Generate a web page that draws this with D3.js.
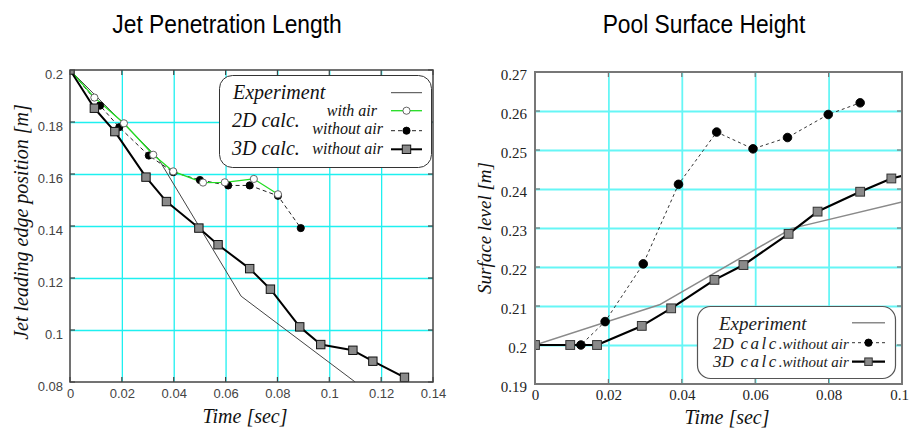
<!DOCTYPE html>
<html><head><meta charset="utf-8">
<script src="https://cdn.jsdelivr.net/npm/d3@7"></script>
<style>
html,body{margin:0;padding:0;background:#fff;}
svg{display:block;}
</style></head>
<body>
<svg id="chart" width="910" height="431"></svg>
<script>
// ---------------- DATA ----------------
// Left panel: Jet Penetration Length
const jetXTicks = [0, 0.02, 0.04, 0.06, 0.08, 0.1, 0.12, 0.14];
const jetXTickLabels = ["0", "0.02", "0.04", "0.06", "0.08", "0.1", "0.12", "0.14"];
const jetYTicks = [0.08, 0.1, 0.12, 0.14, 0.16, 0.18, 0.2];
const jetYTickLabels = ["0.08", "0.1", "0.12", "0.14", "0.16", "0.18", "0.2"];

const jetExpTime = [0, 0.034, 0.066, 0.11];
const jetExpPos  = [0.2, 0.166, 0.113, 0.08];

const jet2DAirTime = [0, 0.0094, 0.0208, 0.0321, 0.0398, 0.0513, 0.0597, 0.0709, 0.0802];
const jet2DAirPos  = [0.2, 0.1894, 0.1795, 0.1674, 0.161, 0.1567, 0.1568, 0.1581, 0.1522];

const jet2DNoAirTime = [0, 0.0116, 0.019, 0.0304, 0.0398, 0.0501, 0.061, 0.0693, 0.0802, 0.089];
const jet2DNoAirPos  = [0.2, 0.1863, 0.178, 0.1671, 0.1607, 0.1577, 0.1556, 0.1556, 0.1516, 0.1392];

const jet3DTime = [0, 0.0094, 0.0173, 0.0293, 0.0372, 0.0497, 0.0571, 0.0693, 0.0773, 0.0886, 0.0967, 0.1091, 0.1168, 0.129];
const jet3DPos  = [0.2, 0.1853, 0.1763, 0.1588, 0.1494, 0.1392, 0.1328, 0.1236, 0.1157, 0.1012, 0.0944, 0.0922, 0.088, 0.0818];

// Right panel: Pool Surface Height
const poolXTicks = [0, 0.02, 0.04, 0.06, 0.08, 0.1];
const poolXTickLabels = ["0", "0.02", "0.04", "0.06", "0.08", "0.1"];
const poolYTicks = [0.19, 0.2, 0.21, 0.22, 0.23, 0.24, 0.25, 0.26, 0.27];
const poolYTickLabels = ["0.19", "0.2", "0.21", "0.22", "0.23", "0.24", "0.25", "0.26", "0.27"];

const poolExpTime = [0, 0.0339, 0.07, 0.1];
const poolExpLevel = [0.2, 0.2103, 0.2299, 0.2367];

const pool2DTime = [0, 0.0125, 0.0191, 0.0295, 0.0391, 0.0495, 0.0594, 0.0688, 0.0799, 0.0886];
const pool2DLevel = [0.2, 0.2, 0.206, 0.2208, 0.2412, 0.2546, 0.2503, 0.2532, 0.2591, 0.2621];

const pool3DTime = [0, 0.0096, 0.0169, 0.0291, 0.0371, 0.0489, 0.0568, 0.0691, 0.077, 0.0886, 0.0971, 0.105];
const pool3DLevel = [0.2, 0.2, 0.2, 0.2049, 0.2094, 0.2167, 0.2205, 0.2285, 0.2342, 0.2393, 0.2427, 0.2445];

const titles = ["Jet Penetration Length", "Pool Surface Height"];

// ---------------- DRAW ----------------
const svg = d3.select("#chart");
const zip = (xs, ys) => xs.map((x, i) => [x, ys[i]]);
const SERIF = "'Liberation Serif','Times New Roman',serif";
const SANS = "'Liberation Sans',Arial,sans-serif";

// titles
svg.append("text").attr("transform", "translate(227,33) scale(0.95,1.05)").attr("text-anchor", "middle")
  .attr("font-family", SANS).attr("font-size", 24).attr("fill", "#000").text(titles[0]);
svg.append("text").attr("transform", "translate(704,33) scale(0.95,1.05)").attr("text-anchor", "middle")
  .attr("font-family", SANS).attr("font-size", 24).attr("fill", "#000").text(titles[1]);

function drawMarker(g, type, cx, cy, s) {
  if (type === "circle") {
    g.append("circle").attr("cx", cx).attr("cy", cy).attr("r", s.msize)
      .attr("fill", s.mfill).attr("stroke", s.mstroke).attr("stroke-width", 0.9);
  } else if (type === "square") {
    g.append("rect").attr("x", cx - s.msize).attr("y", cy - s.msize)
      .attr("width", 2 * s.msize).attr("height", 2 * s.msize)
      .attr("fill", s.mfill).attr("stroke", s.mstroke).attr("stroke-width", 1);
  }
}

function panel(o) {
  const g = svg.append("g");
  const x = d3.scaleLinear().domain(o.xDomain).range([o.left, o.right]);
  const y = d3.scaleLinear().domain(o.yDomain).range([o.bottom, o.top]);
  const W = o.right - o.left, H = o.bottom - o.top;

  // grid
  const gx = g.append("g").attr("transform", `translate(0,${o.bottom})`)
    .call(d3.axisBottom(x).tickValues(o.xTicks.slice(1, -1)).tickSize(-H).tickFormat(""));
  const gy = g.append("g").attr("transform", `translate(${o.left},0)`)
    .call(d3.axisLeft(y).tickValues(o.yTicks.slice(1, -1)).tickSize(-W).tickFormat(""));
  [gx, gy].forEach(a => {
    a.select(".domain").remove();
    a.selectAll("line").attr("stroke", o.gridColor).attr("stroke-width", o.gridWidth);
  });

  // inward ticks on all sides
  const tk = 5;
  const ticks = g.append("g").attr("stroke", o.frameColor).attr("stroke-width", 1.2);
  o.xTicks.forEach(v => {
    ticks.append("line").attr("x1", x(v)).attr("x2", x(v)).attr("y1", o.bottom).attr("y2", o.bottom - tk);
    ticks.append("line").attr("x1", x(v)).attr("x2", x(v)).attr("y1", o.top).attr("y2", o.top + tk);
  });
  o.yTicks.forEach(v => {
    ticks.append("line").attr("y1", y(v)).attr("y2", y(v)).attr("x1", o.left).attr("x2", o.left + tk);
    ticks.append("line").attr("y1", y(v)).attr("y2", y(v)).attr("x1", o.right).attr("x2", o.right - tk);
  });

  // tick labels via axes
  const ax = g.append("g").attr("transform", `translate(0,${o.bottom})`)
    .call(d3.axisBottom(x).tickValues(o.xTicks).tickSize(0).tickPadding(o.xPad)
      .tickFormat((d, i) => o.xLabels[i]));
  const ay = g.append("g").attr("transform", `translate(${o.left},0)`)
    .call(d3.axisLeft(y).tickValues(o.yTicks).tickSize(0).tickPadding(o.yPad)
      .tickFormat((d, i) => o.yLabels[i]));
  [ax, ay].forEach(a => {
    a.select(".domain").remove();
    a.selectAll("text").attr("font-family", o.tickFont).attr("font-size", o.tickSize)
      .attr("fill", o.tickColor);
  });
  ay.selectAll("text").attr("dy", o.yDy);
  ax.selectAll("text").attr("dy", o.xDy);
  if (o.lastXShift) {
    ax.selectAll("text").filter((d, i, n) => i === n.length - 1).attr("dx", o.lastXShift);
  }

  // clip
  const cid = "clip" + o.id;
  svg.append("clipPath").attr("id", cid).append("rect")
    .attr("x", o.left).attr("y", o.top).attr("width", W).attr("height", H);
  const plot = g.append("g").attr("clip-path", `url(#${cid})`);
  const line = d3.line().x(d => x(d[0])).y(d => y(d[1]));

  o.series.forEach(s => {
    plot.append("path").datum(s.data).attr("d", line).attr("fill", "none")
      .attr("stroke", s.color).attr("stroke-width", s.width)
      .attr("stroke-dasharray", s.dash || null).attr("stroke-linejoin", "round");
  });
  o.series.forEach(s => {
    if (!s.marker) return;
    const m = plot.append("g");
    s.data.forEach(d => drawMarker(m, s.marker, x(d[0]), y(d[1]), s));
  });

  // frame
  g.append("rect").attr("x", o.left).attr("y", o.top).attr("width", W).attr("height", H)
    .attr("fill", "none").attr("stroke", o.frameColor).attr("stroke-width", o.frameWidth);

  // axis titles
  g.append("text").attr("x", o.xTitlePos[0]).attr("y", o.xTitlePos[1]).attr("text-anchor", "middle")
    .attr("font-family", SERIF).attr("font-style", "italic").attr("font-size", o.xTitleSize)
    .attr("fill", "#111").text(o.xTitle);
  g.append("text").attr("transform", `translate(${o.yTitlePos[0]},${o.yTitlePos[1]}) rotate(-90)`)
    .attr("text-anchor", "middle").attr("font-family", SERIF).attr("font-style", "italic")
    .attr("font-size", o.yTitleSize).attr("fill", "#111").text(o.yTitle);

  return {g, x, y};
}

// ---- Left panel ----
const L = {
  exp:   {data: zip(jetExpTime, jetExpPos), color: "#444", width: 1},
  air:   {data: zip(jet2DAirTime, jet2DAirPos), color: "#22dd22", width: 1.3, marker: "circle", msize: 3.6, mfill: "#fff", mstroke: "#555"},
  noair: {data: zip(jet2DNoAirTime, jet2DNoAirPos), color: "#222", width: 1, dash: "4,3", marker: "circle", msize: 3.6, mfill: "#000", mstroke: "#000"},
  d3:    {data: zip(jet3DTime, jet3DPos), color: "#000", width: 2, marker: "square", msize: 4.2, mfill: "#8a8a8a", mstroke: "#111"}
};
panel({
  id: "L", left: 70, right: 433, top: 70, bottom: 382,
  xDomain: [0, 0.14], yDomain: [0.08, 0.2],
  xTicks: jetXTicks, xLabels: jetXTickLabels, yTicks: jetYTicks, yLabels: jetYTickLabels,
  gridColor: "#1ef0f0", gridWidth: 1.3, frameColor: "#444", frameWidth: 1.5,
  tickFont: SANS, tickSize: 13, tickColor: "#444", xPad: 6, yPad: 7, xDy: "0.75em", yDy: "0.65em",
  series: [L.exp, L.noair, L.air, L.d3],
  xTitle: "Time [sec]", xTitlePos: [245, 423], xTitleSize: 20,
  yTitle: "Jet leading edge position [m]", yTitlePos: [28, 222], yTitleSize: 20
});

// left legend
(function () {
  const g = svg.append("g");
  g.append("rect").attr("x", 219.5).attr("y", 75.5).attr("width", 212).attr("height", 92)
    .attr("rx", 13).attr("fill", "#fff").attr("stroke", "#333").attr("stroke-width", 1);
  const big = (t, x, y) => g.append("text").attr("x", x).attr("y", y).attr("font-family", SERIF)
    .attr("font-style", "italic").attr("font-size", 20).attr("fill", "#111").text(t);
  const small = (t, x, y) => g.append("text").attr("x", x).attr("y", y).attr("text-anchor", "end")
    .attr("font-family", SERIF).attr("font-style", "italic").attr("font-size", 16).attr("fill", "#111").text(t);
  big("Experiment", 233, 99);
  big("2D calc.", 232, 127);
  big("3D calc.", 232, 155);
  small("with air", 377, 116);
  small("without air", 383, 134);
  small("without air", 383, 154);
  const rows = [[L.exp, 92.7], [L.air, 110.7], [L.noair, 130.7], [L.d3, 149.3]];
  rows.forEach(([s, yy]) => {
    g.append("line").attr("x1", 391).attr("x2", 422).attr("y1", yy).attr("y2", yy)
      .attr("stroke", s.color).attr("stroke-width", s.width).attr("stroke-dasharray", s.dash || null);
    if (s.marker) drawMarker(g, s.marker, 406.5, yy, s);
  });
})();

// ---- Right panel ----
const R = {
  exp: {data: zip(poolExpTime, poolExpLevel), color: "#8a8a8a", width: 1.5},
  d2:  {data: zip(pool2DTime, pool2DLevel), color: "#333", width: 1, dash: "3,3", marker: "circle", msize: 4.3, mfill: "#000", mstroke: "#000"},
  d3:  {data: zip(pool3DTime, pool3DLevel), color: "#000", width: 2.2, marker: "square", msize: 4.4, mfill: "#8a8a8a", mstroke: "#333"}
};
panel({
  id: "R", left: 535, right: 902, top: 72, bottom: 384,
  xDomain: [0, 0.1], yDomain: [0.19, 0.27],
  xTicks: poolXTicks, xLabels: poolXTickLabels, yTicks: poolYTicks, yLabels: poolYTickLabels,
  gridColor: "#66f6f6", gridWidth: 1.8, frameColor: "#777", frameWidth: 2,
  tickFont: SERIF, tickSize: 15, tickColor: "#222", xPad: 5, yPad: 8, xDy: "0.7em", yDy: "0.5em",
  lastXShift: -3,
  series: [R.exp, R.d2, R.d3],
  xTitle: "Time [sec]", xTitlePos: [727, 424], xTitleSize: 20,
  yTitle: "Surface level [m]", yTitlePos: [491, 228], yTitleSize: 19
});

// right legend
(function () {
  const g = svg.append("g");
  g.append("rect").attr("x", 697.5).attr("y", 306.5).attr("width", 198).attr("height", 72)
    .attr("rx", 13).attr("fill", "#fff").attr("stroke", "#555").attr("stroke-width", 1.2);
  g.append("text").attr("x", 719).attr("y", 330).attr("font-family", SERIF).attr("font-style", "italic")
    .attr("font-size", 19).attr("fill", "#222").text("Experiment");
  const row = (lab, yy) => {
    const t = g.append("text").attr("x", 713).attr("y", yy).attr("font-family", SERIF)
      .attr("font-style", "italic").attr("fill", "#222");
    t.append("tspan").attr("font-size", 17).text(lab);
    t.append("tspan").attr("font-size", 17).attr("letter-spacing", 2.5).text(" calc");
    t.append("tspan").attr("font-size", 15).text(".without air");
  };
  row("2D", 349);
  row("3D", 367);
  const rows = [[R.exp, 322.7], [R.d2, 342.7], [R.d3, 361.7]];
  rows.forEach(([s, yy]) => {
    g.append("line").attr("x1", 852).attr("x2", 885).attr("y1", yy).attr("y2", yy)
      .attr("stroke", s.color).attr("stroke-width", s.width).attr("stroke-dasharray", s.dash || null);
    if (s.marker) drawMarker(g, s.marker, 868.5, yy, Object.assign({}, s, {msize: s.msize * 0.85}));
  });
})();
</script>
</body></html>
